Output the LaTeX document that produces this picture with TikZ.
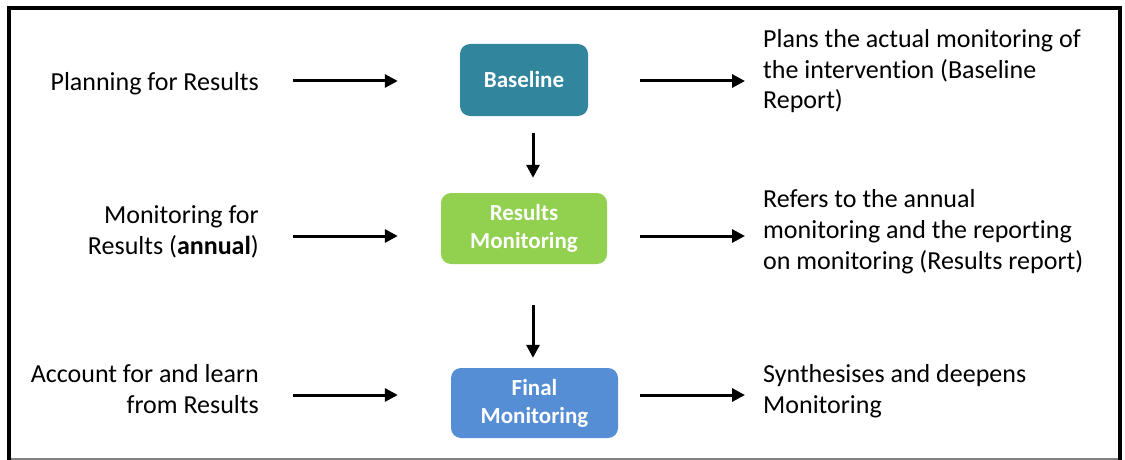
\documentclass[tikz,border=0pt]{standalone}
\usepackage{fontspec}
\setmainfont[Ligatures=NoCommon]{Carlito}
\usepackage{xcolor}
\usepackage{tikz}
\usetikzlibrary{arrows.meta,positioning}

\definecolor{baseteal}{HTML}{31859C}
\definecolor{resgreen}{HTML}{92D050}
\definecolor{finblue}{HTML}{558ED5}

\begin{document}
\begin{tikzpicture}[x=1pt, y=1pt,
    box/.style={rectangle, rounded corners=10pt, text=white, align=center, font=\fontsize{23}{28}\selectfont\bfseries},
    txt/.style={inner sep=0pt, font=\fontsize{26}{31}\selectfont},
    arrow/.style={black, line width=3pt, -{Triangle[length=13pt,width=13pt]}}]
                \useasboundingbox (0,0) rectangle (1125,-460);
                \draw[line width=4pt] (9,-470) -- (9,-8) -- (1120,-8) -- (1120,-470);
                \draw[gray, line width=1.5pt] (11,-459) -- (1118,-459);
                % stages
                \node[box, fill=baseteal, minimum width=128pt, minimum height=72pt] (Baseline) at (524,-80) {Baseline};
                \node[box, fill=resgreen, minimum width=166pt, minimum height=71pt] (Results) at (524,-228.5) {Results\\Monitoring};
                \node[box, fill=finblue, minimum width=167pt, minimum height=70pt] (Final) at (534.5,-403) {Final\\Monitoring};
                % left texts (base is the last line)
                \node[txt, anchor=base east, align=right] (Plan) at (259,-90) {Planning for Results};
                \node[txt, anchor=base east, align=right] (Monit) at (259,-254) {Monitoring for\\Results (\textbf{annual})};
                \node[txt, anchor=base east, align=right] (Account) at (259,-413) {Account for and learn\\from Results};
                % right texts
                \node[txt, anchor=base west, align=left] (Plans) at (763,-109) {Plans the actual monitoring of\\the intervention (Baseline\\Report)};
                \node[txt, anchor=base west, align=left] (Refers) at (763,-269) {Refers to the annual\\monitoring and the reporting\\on monitoring (Results report)};
                \node[txt, anchor=base west, align=left] (Synth) at (763,-413) {Synthesises and deepens\\Monitoring};
                % arrows
                \draw[arrow, shorten <=34pt, shorten >=62pt] ([yshift=-1pt]Baseline.west -| Plan.east) -- ([yshift=-1pt]Baseline.west);
                \draw[arrow, shorten <=34pt, shorten >=43pt] ([yshift=-7.5pt]Results.west -| Monit.east) -- ([yshift=-7.5pt]Results.west);
                \draw[arrow, shorten <=34pt, shorten >=53pt] ([yshift=8pt]Final.west -| Account.east) -- ([yshift=8pt]Final.west);
                \draw[arrow, shorten <=52pt, shorten >=18pt] ([yshift=-1pt]Baseline.east) -- ([yshift=-1pt]Baseline.east -| Plans.west);
                \draw[arrow, shorten <=33pt, shorten >=18pt] ([yshift=-7.5pt]Results.east) -- ([yshift=-7.5pt]Results.east -| Refers.west);
                \draw[arrow, shorten <=22pt, shorten >=18pt] ([yshift=8pt]Final.east) -- ([yshift=8pt]Final.east -| Synth.west);
                \draw[arrow, shorten <=17pt, shorten >=15pt] ([xshift=9pt]Baseline.south) -- ([xshift=9pt]Baseline.south |- Results.north);
                \draw[arrow, shorten <=41pt, shorten >=10pt] ([xshift=9pt]Results.south) -- ([xshift=9pt]Results.south |- Final.north);
            \end{tikzpicture}
\end{document}
